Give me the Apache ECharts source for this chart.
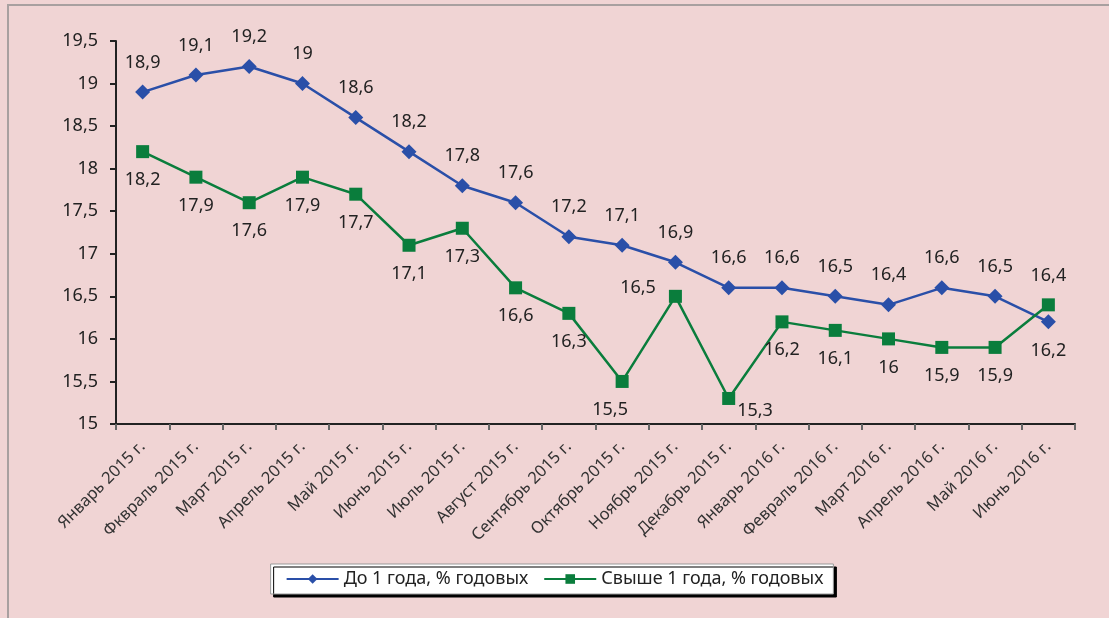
<!DOCTYPE html>
<html><head><meta charset="utf-8">
<script src="https://cdn.jsdelivr.net/npm/echarts@6/dist/echarts.min.js"></script>
<style>html,body{margin:0;padding:0;background:#f0d4d4}#c{width:1109px;height:618px}</style>
</head><body><div id="c"></div>
<script>
const categories = ['Январь 2015 г.','Фквраль 2015 г.','Март 2015 г.','Апрель 2015 г.','Май 2015 г.','Июнь 2015 г.','Июль 2015 г.','Август 2015 г.','Сентябрь 2015 г.','Октябрь 2015 г.','Ноябрь 2015 г.','Декабрь 2015 г.','Январь 2016 г.','Февраль 2016 г.','Март 2016 г.','Апрель 2016 г.','Май 2016 г.','Июнь 2016 г.'];
const shortTerm = [18.9,19.1,19.2,19,18.6,18.2,17.8,17.6,17.2,17.1,16.9,16.6,16.6,16.5,16.4,16.6,16.5,16.2];
const longTerm = [18.2,17.9,17.6,17.9,17.7,17.1,17.3,16.6,16.3,15.5,16.5,15.3,16.2,16.1,16,15.9,15.9,16.4];
const seriesNames = ['До 1 года, % годовых','Свыше 1 года, % годовых'];
const FONT = 'Noto Sans';
const fmt = v => String(v).replace('.', ',');
const chart = echarts.init(document.getElementById('c'));
const labelCommon = {show:true, fontFamily:FONT, fontSize:18, color:'#222', distance:13, formatter:p=>fmt(p.value)};
const greenOverrides = {
  9:{position:'bottom', offset:[-12,0]},
  10:{position:'left', offset:[0,-8]},
  11:{position:'right', distance:2, offset:[0,12]},
  17:{position:'top'}
};
chart.setOption({
  backgroundColor:'#f0d4d4',
  animation:false,
  graphic:[{type:'rect', shape:{x:8,y:5,width:1200,height:700}, style:{fill:'none', stroke:'#a8a0a0', lineWidth:2}}],
  grid:{left:116,right:34,top:41,bottom:194},
  legend:{
    bottom:24, left:'center',
    data:seriesNames,
    backgroundColor:'#fff', borderColor:'#999', borderWidth:1,
    shadowColor:'#000', shadowOffsetX:3, shadowOffsetY:3, shadowBlur:0,
    padding:[6,10,6,15], itemGap:15, itemWidth:52, itemHeight:12,
    textStyle:{fontFamily:FONT, fontSize:18, color:'#222'}
  },
  xAxis:{
    type:'category', data:categories, boundaryGap:true,
    axisLine:{lineStyle:{color:'#222', width:2}},
    axisTick:{show:true, length:6, lineStyle:{color:'#666', width:2}},
    axisLabel:{rotate:45, fontFamily:FONT, fontSize:16.5, color:'#333', interval:0, margin:20}
  },
  yAxis:{
    type:'value', min:15, max:19.5, interval:0.5,
    axisLine:{show:true, lineStyle:{color:'#222', width:2}},
    axisTick:{show:true, length:6, lineStyle:{color:'#222', width:2}},
    splitLine:{show:false},
    axisLabel:{fontFamily:FONT, fontSize:18, color:'#222', margin:18, formatter:v=>fmt(v)}
  },
  series:[
    {name:seriesNames[0], type:'line', data:shortTerm.map((v,i)=>({value:v, label: i===17?{position:'bottom'}:undefined})),
     symbol:'diamond', symbolSize:15, lineStyle:{color:'#2a4fa8', width:2.5}, itemStyle:{color:'#2a4fa8'},
     label:Object.assign({position:'top'}, labelCommon)},
    {name:seriesNames[1], type:'line', data:longTerm.map((v,i)=>({value:v, label: greenOverrides[i]})),
     symbol:'rect', symbolSize:13, lineStyle:{color:'#0a7d3c', width:2.5}, itemStyle:{color:'#0a7d3c'},
     label:Object.assign({position:'bottom'}, labelCommon)}
  ]
});
</script></body></html>
